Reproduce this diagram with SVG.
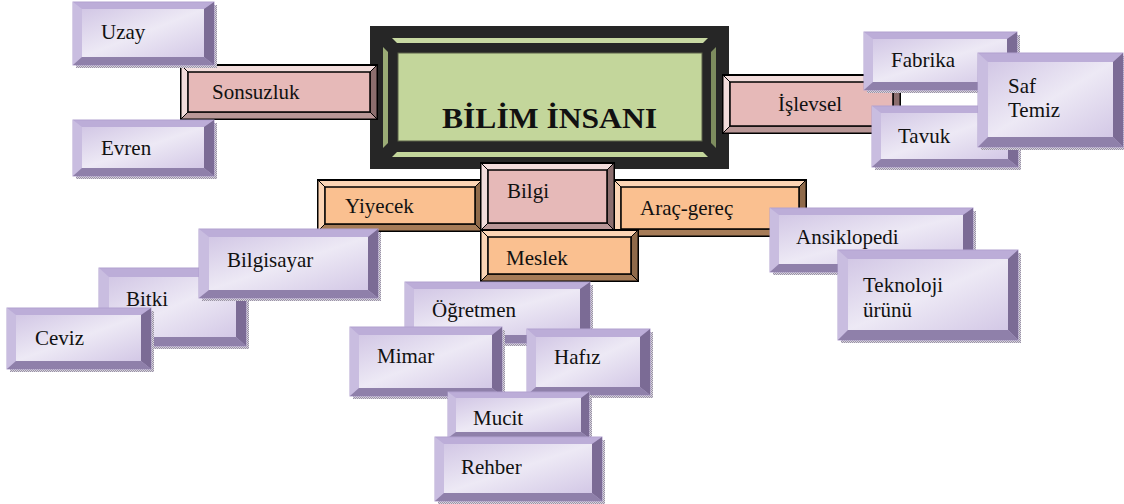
<svg xmlns="http://www.w3.org/2000/svg" width="1124" height="504" viewBox="0 0 1124 504">
<defs>
<linearGradient id="pg" x1="0" y1="0" x2="1" y2="1">
<stop offset="0" stop-color="#d2c7e5"/>
<stop offset="0.5" stop-color="#ede9f5"/>
<stop offset="1" stop-color="#d3c8e6"/>
</linearGradient>
<pattern id="dots" width="2" height="2" patternUnits="userSpaceOnUse">
<rect width="2" height="2" fill="#d8d4de"/>
<rect width="1" height="1" fill="#9a93a6"/>
<rect x="1" y="1" width="1" height="1" fill="#9a93a6"/>
</pattern>
</defs>
<style>
text{font-family:"Liberation Serif","Times New Roman",serif;font-size:21px;fill:#111}
.sh{fill:url(#dots)}
.po{fill:#bcadd8;stroke:#b2a1d0;stroke-width:1}
.pl{fill:#c9bde0}
.pr{fill:#7b6b95}
.pb{fill:#8f80aa}
.pf{fill:url(#pg)}
.ko{fill:#f2dcdb;stroke:#000;stroke-width:2}
.kl{fill:#f2dcdb;stroke:#000;stroke-width:1}
.kr{fill:#8c6e6e;stroke:#000;stroke-width:1}
.kb{fill:#b99797;stroke:#000;stroke-width:1}
.kf{fill:#e6b9b8;stroke:#000;stroke-width:1.5}
.oo{fill:#fcd5b5;stroke:#000;stroke-width:2}
.ol{fill:#fcd5b5;stroke:#000;stroke-width:1}
.or{fill:#8f6a4a;stroke:#000;stroke-width:1}
.ob{fill:#a67c58;stroke:#000;stroke-width:1}
.of{fill:#fac090;stroke:#000;stroke-width:1.5}
.title{font-weight:bold;font-size:29px}
</style>

<g id="bilim-insani">
<rect x="370" y="26" width="359" height="143" fill="#262626"/>
<polygon points="392,38 708,38 703,43 397,43" fill="#c8d9a2"/>
<polygon points="383,47 388,52 388,143 383,148" fill="#9aab75"/>
<polygon points="716,47 716,148 711,143 711,52" fill="#7d8c5e"/>
<polygon points="392,157 397,152 703,152 708,157" fill="#c3d69b"/>
<rect x="398" y="53" width="304" height="88" fill="#c3d69b" stroke="#5a6048" stroke-width="1"/>
<text class="title" x="442" y="128" textLength="215" lengthAdjust="spacingAndGlyphs">BİLİM İNSANI</text>
</g>

<g id="sonsuzluk" transform="translate(181,65)">
<rect class="ko" width="196" height="54"/>
<polygon class="kl" points="0,0 7,7 7,47 0,54"/>
<polygon class="kr" points="196,0 196,54 189,47 189,7"/>
<polygon class="kb" points="0,54 7,47 189,47 196,54"/>
<rect class="kf" x="7" y="7" width="182" height="40"/>
<text x="31" y="34">Sonsuzluk</text>
</g>

<g id="islevsel" transform="translate(723,75)">
<rect class="ko" width="177" height="58"/>
<polygon class="kl" points="0,0 7,7 7,51 0,58"/>
<polygon class="kr" points="177,0 177,58 170,51 170,7"/>
<polygon class="kb" points="0,58 7,51 170,51 177,58"/>
<rect class="kf" x="7" y="7" width="163" height="44"/>
<text x="55" y="36">İşlevsel</text>
</g>

<g id="uzay" transform="translate(73,2)">
<rect class="sh" x="3" y="3" width="141" height="63"/>
<rect class="po" width="141" height="63"/>
<polygon class="pl" points="0,0 9,7 9,55 0,63"/>
<polygon class="pr" points="141,0 141,63 131,55 131,7"/>
<polygon class="pb" points="0,63 9,55 131,55 141,63"/>
<rect class="pf" x="9" y="7" width="122" height="48"/>
<text x="28" y="37">Uzay</text>
</g>

<g id="evren" transform="translate(73,120)">
<rect class="sh" x="3" y="3" width="141" height="56"/>
<rect class="po" width="141" height="56"/>
<polygon class="pl" points="0,0 9,7 9,48 0,56"/>
<polygon class="pr" points="141,0 141,56 131,48 131,7"/>
<polygon class="pb" points="0,56 9,48 131,48 141,56"/>
<rect class="pf" x="9" y="7" width="122" height="41"/>
<text x="28" y="35">Evren</text>
</g>

<g id="fabrika" transform="translate(864,32)">
<rect class="sh" x="3" y="3" width="153" height="58"/>
<rect class="po" width="153" height="58"/>
<polygon class="pl" points="0,0 9,7 9,50 0,58"/>
<polygon class="pr" points="153,0 153,58 143,50 143,7"/>
<polygon class="pb" points="0,58 9,50 143,50 153,58"/>
<rect class="pf" x="9" y="7" width="134" height="43"/>
<text x="27" y="35">Fabrika</text>
</g>

<g id="tavuk" transform="translate(872,106)">
<rect class="sh" x="3" y="3" width="146" height="61"/>
<rect class="po" width="146" height="61"/>
<polygon class="pl" points="0,0 9,7 9,53 0,61"/>
<polygon class="pr" points="146,0 146,61 136,53 136,7"/>
<polygon class="pb" points="0,61 9,53 136,53 146,61"/>
<rect class="pf" x="9" y="7" width="127" height="46"/>
<text x="26" y="37">Tavuk</text>
</g>

<g id="saf-temiz" transform="translate(978,53)">
<rect class="sh" x="3" y="3" width="143" height="94"/>
<rect class="po" width="145" height="94"/>
<polygon class="pl" points="0,0 10,9 10,84 0,94"/>
<polygon class="pr" points="145,0 145,94 135,84 135,9"/>
<polygon class="pb" points="0,94 10,84 135,84 145,94"/>
<rect class="pf" x="10" y="9" width="125" height="75"/>
<text x="30" y="40">Saf</text>
<text x="30" y="64">Temiz</text>
</g>

<g id="yiyecek" transform="translate(318,180)">
<rect class="oo" width="164" height="51"/>
<polygon class="ol" points="0,0 7,7 7,44 0,51"/>
<polygon class="or" points="164,0 164,51 157,44 157,7"/>
<polygon class="ob" points="0,51 7,44 157,44 164,51"/>
<rect class="of" x="7" y="7" width="150" height="37"/>
<text x="27" y="33">Yiyecek</text>
</g>

<g id="arac-gerec" transform="translate(614,180)">
<rect class="oo" width="192" height="56"/>
<polygon class="ol" points="0,0 7,7 7,49 0,56"/>
<polygon class="or" points="192,0 192,56 185,49 185,7"/>
<polygon class="ob" points="0,56 7,49 185,49 192,56"/>
<rect class="of" x="7" y="7" width="178" height="42"/>
<text x="26" y="35">Araç-gereç</text>
</g>

<g id="bilgi" transform="translate(481,163)">
<rect class="ko" width="133" height="67"/>
<polygon class="kl" points="0,0 7,7 7,60 0,67"/>
<polygon class="kr" points="133,0 133,67 126,60 126,7"/>
<polygon class="kb" points="0,67 7,60 126,60 133,67"/>
<rect class="kf" x="7" y="7" width="119" height="53"/>
<text x="26" y="35">Bilgi</text>
</g>

<g id="meslek" transform="translate(481,230)">
<rect class="oo" width="157" height="51"/>
<polygon class="ol" points="0,0 7,7 7,44 0,51"/>
<polygon class="or" points="157,0 157,51 150,44 150,7"/>
<polygon class="ob" points="0,51 7,44 150,44 157,51"/>
<rect class="of" x="7" y="7" width="143" height="37"/>
<text x="25" y="35">Meslek</text>
</g>

<g id="ansiklopedi" transform="translate(770,208)">
<rect class="sh" x="3" y="3" width="203" height="64"/>
<rect class="po" width="203" height="64"/>
<polygon class="pl" points="0,0 9,7 9,56 0,64"/>
<polygon class="pr" points="203,0 203,64 193,56 193,7"/>
<polygon class="pb" points="0,64 9,56 193,56 203,64"/>
<rect class="pf" x="9" y="7" width="184" height="49"/>
<text x="26" y="36">Ansiklopedi</text>
</g>

<g id="teknoloji-urunu" transform="translate(838,250)">
<rect class="sh" x="3" y="3" width="180" height="90"/>
<rect class="po" width="180" height="90"/>
<polygon class="pl" points="0,0 10,9 10,80 0,90"/>
<polygon class="pr" points="180,0 180,90 170,80 170,9"/>
<polygon class="pb" points="0,90 10,80 170,80 180,90"/>
<rect class="pf" x="10" y="9" width="160" height="71"/>
<text x="25" y="42">Teknoloji</text>
<text x="25" y="67">ürünü</text>
</g>

<g id="bitki" transform="translate(99,268)">
<rect class="sh" x="3" y="3" width="147" height="78"/>
<rect class="po" width="147" height="78"/>
<polygon class="pl" points="0,0 10,9 10,69 0,78"/>
<polygon class="pr" points="147,0 147,78 137,69 137,9"/>
<polygon class="pb" points="0,78 10,69 137,69 147,78"/>
<rect class="pf" x="10" y="9" width="127" height="60"/>
<text x="27" y="38">Bitki</text>
</g>

<g id="bilgisayar" transform="translate(199,229)">
<rect class="sh" x="3" y="3" width="179" height="69"/>
<rect class="po" width="179" height="69"/>
<polygon class="pl" points="0,0 10,8 10,61 0,69"/>
<polygon class="pr" points="179,0 179,69 169,61 169,8"/>
<polygon class="pb" points="0,69 10,61 169,61 179,69"/>
<rect class="pf" x="10" y="8" width="159" height="53"/>
<text x="28" y="38">Bilgisayar</text>
</g>

<g id="ceviz" transform="translate(7,308)">
<rect class="sh" x="3" y="3" width="144" height="61"/>
<rect class="po" width="144" height="61"/>
<polygon class="pl" points="0,0 9,7 9,53 0,61"/>
<polygon class="pr" points="144,0 144,61 134,53 134,7"/>
<polygon class="pb" points="0,61 9,53 134,53 144,61"/>
<rect class="pf" x="9" y="7" width="125" height="46"/>
<text x="28" y="37">Ceviz</text>
</g>

<g id="ogretmen" transform="translate(405,282)">
<rect class="sh" x="3" y="3" width="185" height="61"/>
<rect class="po" width="185" height="61"/>
<polygon class="pl" points="0,0 9,7 9,53 0,61"/>
<polygon class="pr" points="185,0 185,61 175,53 175,7"/>
<polygon class="pb" points="0,61 9,53 175,53 185,61"/>
<rect class="pf" x="9" y="7" width="166" height="46"/>
<text x="27" y="35">Öğretmen</text>
</g>

<g id="mimar" transform="translate(350,327)">
<rect class="sh" x="3" y="3" width="152" height="69"/>
<rect class="po" width="152" height="69"/>
<polygon class="pl" points="0,0 9,8 9,61 0,69"/>
<polygon class="pr" points="152,0 152,69 142,61 142,8"/>
<polygon class="pb" points="0,69 9,61 142,61 152,69"/>
<rect class="pf" x="9" y="8" width="133" height="53"/>
<text x="27" y="36">Mimar</text>
</g>

<g id="hafiz" transform="translate(527,329)">
<rect class="sh" x="3" y="3" width="123" height="66"/>
<rect class="po" width="123" height="66"/>
<polygon class="pl" points="0,0 9,8 9,58 0,66"/>
<polygon class="pr" points="123,0 123,66 113,58 113,8"/>
<polygon class="pb" points="0,66 9,58 113,58 123,66"/>
<rect class="pf" x="9" y="8" width="104" height="50"/>
<text x="27" y="35">Hafız</text>
</g>

<g id="mucit" transform="translate(448,392)">
<rect class="sh" x="3" y="3" width="141" height="46"/>
<rect class="po" width="141" height="46"/>
<polygon class="pl" points="0,0 8,6 8,40 0,46"/>
<polygon class="pr" points="141,0 141,46 133,40 133,6"/>
<polygon class="pb" points="0,46 8,40 133,40 141,46"/>
<rect class="pf" x="8" y="6" width="125" height="34"/>
<text x="25" y="33">Mucit</text>
</g>

<g id="rehber" transform="translate(435,437)">
<rect class="sh" x="3" y="3" width="167" height="64"/>
<rect class="po" width="167" height="64"/>
<polygon class="pl" points="0,0 9,7 9,56 0,64"/>
<polygon class="pr" points="167,0 167,64 157,56 157,7"/>
<polygon class="pb" points="0,64 9,56 157,56 167,64"/>
<rect class="pf" x="9" y="7" width="148" height="49"/>
<text x="26" y="37">Rehber</text>
</g>
</svg>
